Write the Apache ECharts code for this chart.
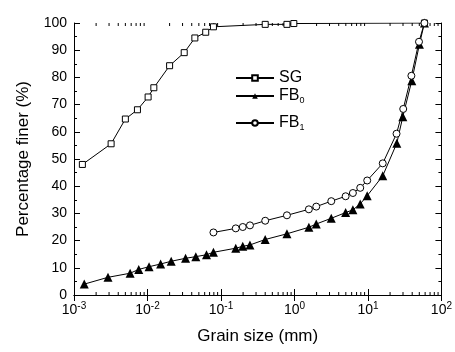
<!DOCTYPE html>
<html lang="en" style="height: 100%">
<head>
  <meta charset="utf-8">
</head>
<body style="height: 100%; margin: 0">
<div id="container" style="width: 455px; height: 352px"></div>
<script type="text/javascript" src="https://cdn.jsdelivr.net/npm/echarts@6/dist/echarts.min.js"></script>
<script type="text/javascript">
  // grain size (mm) / percentage finer (%)
  var sgSize = [0.0013, 0.0032, 0.005, 0.0073, 0.0102, 0.0122, 0.02, 0.0316, 0.0441, 0.062, 0.079, 0.40, 0.79, 0.98, 58.7];
  var sgFiner = [48.0, 55.6, 64.7, 68.1, 72.8, 76.2, 84.3, 89.1, 94.5, 96.6, 98.6, 99.5, 99.5, 99.8, 100];

  var fb0Size = [0.00138, 0.0029, 0.0058, 0.0076, 0.0105, 0.0151, 0.021, 0.033, 0.0455, 0.0635, 0.079, 0.159, 0.198, 0.248, 0.40, 0.79, 1.57, 1.98, 3.17, 4.97, 6.24, 7.85, 9.77, 15.9, 24.7, 29.8, 39.5, 50.2, 58.7];
  var fb0Finer = [4.0, 6.5, 8.0, 9.4, 10.4, 11.4, 12.4, 13.5, 14.1, 14.8, 15.7, 17.2, 17.9, 18.4, 20.4, 22.5, 24.9, 26.1, 28.2, 30.3, 31.3, 33.5, 36.5, 43.8, 55.8, 65.5, 78.8, 92.2, 100];

  var fb1Size = [0.079, 0.159, 0.198, 0.248, 0.40, 0.79, 1.57, 1.98, 3.17, 4.97, 6.24, 7.85, 9.77, 15.9, 24.5, 30.2, 39, 49.5, 58.7];
  var fb1Finer = [23.0, 24.5, 25.0, 25.6, 27.3, 29.3, 31.5, 32.5, 34.5, 36.3, 37.5, 39.4, 42.1, 48.4, 59.3, 68.4, 80.6, 93.1, 100];

  var seriesNames = ['SG', 'FB0', 'FB1'];

  // minor ticks of the log axis: 2..9 in each decade
  var decades = [0.001, 0.01, 0.1, 1, 10];
  var minorMult = [2, 3, 4, 5, 6, 7, 8, 9];

  function pairs(xs, ys) {
    return xs.map(function (x, i) { return [x, ys[i]]; });
  }

  var minorTicks = [];
  decades.forEach(function (d) {
    minorMult.forEach(function (m) { minorTicks.push([+(d * m).toPrecision(3)]); });
  });

  var dom = document.getElementById('container');
  var myChart = echarts.init(dom, null, { renderer: 'canvas' });

  var font = 'Arial, "Liberation Sans", sans-serif';

  var tickLabel = {
    color: '#000',
    fontFamily: font,
    fontSize: 14
  };

  var legendText = {
    color: '#000',
    fontFamily: font,
    fontSize: 16,
    rich: {
      sub: { fontSize: 9, fontFamily: font, color: '#000', padding: [9, 0, 0, 0] }
    }
  };

  function legendFor(name, top) {
    return {
      data: [name],
      left: 230,
      top: top,
      orient: 'vertical',
      itemWidth: 38,
      itemHeight: 7,
      itemGap: 4,
      selectedMode: false,
      textStyle: legendText,
      formatter: function (n) {
        return n.length > 2 ? 'FB{sub|' + n.slice(2) + '}' : n;
      }
    };
  }

  var axisLine = { show: true, lineStyle: { color: '#000', width: 1 } };

  var option = {
    backgroundColor: '#fff',
    animation: false,
    grid: { left: 74, right: 13, top: 23, bottom: 57 },
    legend: [legendFor('SG', 65), legendFor('FB0', 83), legendFor('FB1', 110)],
    xAxis: [
      {
        type: 'log',
        logBase: 10,
        min: 0.001,
        max: 100,
        name: 'Grain size (mm)',
        nameLocation: 'middle',
        nameGap: 33,
        nameTextStyle: { color: '#000', fontFamily: font, fontSize: 17 },
        axisLine: axisLine,
        axisTick: { inside: true, length: 6, lineStyle: { color: '#000' } },
        splitLine: { show: false },
        axisLabel: Object.assign({}, tickLabel, {
          margin: 6,
          formatter: function (v) {
            return '10{sup|' + Math.round(Math.log10(v)) + '}';
          },
          rich: {
            sup: { fontSize: 10, fontFamily: font, color: '#000', padding: [0, 0, 9, 0] }
          }
        })
      },
      {
        type: 'log',
        logBase: 10,
        min: 0.001,
        max: 100,
        position: 'top',
        axisLine: axisLine,
        axisTick: { inside: true, length: 6, lineStyle: { color: '#000' } },
        splitLine: { show: false },
        axisLabel: { show: false }
      }
    ],
    yAxis: [
      {
        type: 'value',
        min: 0,
        max: 100,
        interval: 10,
        name: 'Percentage finer (%)',
        nameLocation: 'middle',
        nameGap: 42,
        nameTextStyle: { color: '#000', fontFamily: font, fontSize: 17 },
        axisLine: axisLine,
        axisTick: { inside: true, length: 6, lineStyle: { color: '#000' } },
        minorTick: { show: true, splitNumber: 2, length: 3, lineStyle: { color: '#000' } },
        splitLine: { show: false },
        axisLabel: Object.assign({}, tickLabel, { margin: 7 })
      },
      {
        type: 'value',
        min: 0,
        max: 100,
        interval: 10,
        position: 'right',
        axisLine: axisLine,
        axisTick: { inside: true, length: 6, lineStyle: { color: '#000' } },
        minorTick: { show: true, splitNumber: 2, length: 3, lineStyle: { color: '#000' } },
        splitLine: { show: false },
        axisLabel: { show: false }
      }
    ],
    series: [
      {
        type: 'custom',
        silent: true,
        clip: false,
        data: minorTicks,
        encode: { x: 0 },
        renderItem: function (params, api) {
          var bottom = api.coord([api.value(0), 0]);
          var top = api.coord([api.value(0), 100]);
          var style = { stroke: '#000', lineWidth: 1 };
          return {
            type: 'group',
            children: [
              { type: 'line', shape: { x1: bottom[0], y1: bottom[1], x2: bottom[0], y2: bottom[1] - 3 }, style: style },
              { type: 'line', shape: { x1: top[0], y1: top[1], x2: top[0], y2: top[1] + 3 }, style: style }
            ]
          };
        }
      },
      {
        name: seriesNames[0],
        type: 'line',
        data: pairs(sgSize, sgFiner),
        symbol: 'rect',
        symbolSize: 6,
        itemStyle: { color: '#fff', borderColor: '#000', borderWidth: 1 },
        lineStyle: { color: '#000', width: 1 }
      },
      {
        name: seriesNames[1],
        type: 'line',
        data: pairs(fb0Size, fb0Finer),
        symbol: 'triangle',
        symbolSize: 9,
        itemStyle: { color: '#000', borderColor: '#000', borderWidth: 0 },
        lineStyle: { color: '#000', width: 1 }
      },
      {
        name: seriesNames[2],
        type: 'line',
        data: pairs(fb1Size, fb1Finer),
        symbol: 'circle',
        symbolSize: 7,
        itemStyle: { color: '#fff', borderColor: '#000', borderWidth: 1 },
        lineStyle: { color: '#000', width: 1 }
      }
    ]
  };

  myChart.setOption(option);
  window.addEventListener('resize', myChart.resize);
</script>
</body>
</html>
